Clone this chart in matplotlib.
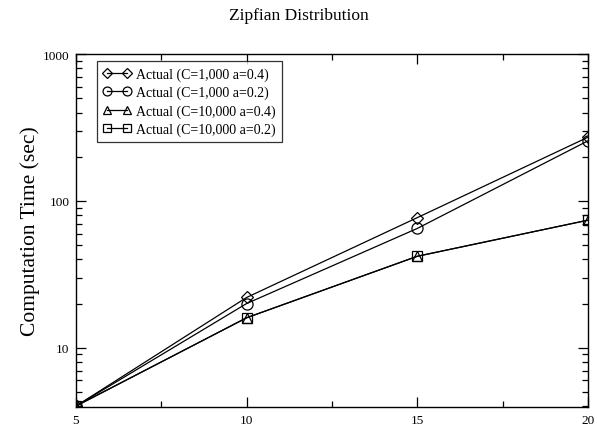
import matplotlib.pyplot as plt
from matplotlib.ticker import LogLocator, NullFormatter, FixedLocator
import numpy as np

plt.rcParams['font.family'] = ['Liberation Serif', 'DejaVu Serif']

x = [5, 10, 15, 20]
c1000_a04 = [4, 22, 77, 272]
c1000_a02 = [4, 20, 65, 257]
c10000_a04 = [4, 16, 42, 74]
c10000_a02 = [4, 16, 42, 74]

labels = ['Actual (C=1,000 a=0.4)', 'Actual (C=1,000 a=0.2)',
          'Actual (C=10,000 a=0.4)', 'Actual (C=10,000 a=0.2)']
markers = ['D', 'o', '^', 's']
sizes = [6, 8, 7, 7]

fig = plt.figure(figsize=(5.97, 4.31), dpi=100)
ax = fig.add_axes([0.127, 0.0534, 0.858, 0.8186])

for y, lab, m, ms in zip([c1000_a04, c1000_a02, c10000_a04, c10000_a02], labels, markers, sizes):
    ax.plot(x, y, color='black', lw=0.9, marker=m, markersize=ms,
            markerfacecolor='none', markeredgecolor='black', markeredgewidth=0.9, label=lab)

ax.set_yscale('log')
ax.set_xlim(5, 20)
ax.set_ylim(3.95, 1000)
ax.xaxis.set_major_locator(FixedLocator([5, 10, 15, 20]))
ax.xaxis.set_minor_locator(FixedLocator([7.5, 12.5, 17.5]))
ax.yaxis.set_major_locator(FixedLocator([10, 100, 1000]))
ax.yaxis.set_major_formatter(plt.FuncFormatter(lambda v, p: '%d' % v))
ax.yaxis.set_minor_locator(LogLocator(base=10, subs=np.arange(2, 10)))
ax.yaxis.set_minor_formatter(NullFormatter())

ax.tick_params(which='both', direction='in', top=True, right=True, labelsize=9.5, width=0.9)
ax.tick_params(which='major', length=7)
ax.tick_params(which='minor', length=4)
ax.tick_params(axis='x', pad=5)
ax.tick_params(axis='y', pad=4.5)
for s in ax.spines.values():
    s.set_linewidth(1.0)

ax.set_ylabel('Computation Time (sec)', fontsize=15.5, labelpad=2)
fig.suptitle('Zipfian Distribution', fontsize=12.5, y=0.982)

leg = ax.legend(loc='upper left', bbox_to_anchor=(0.041, 0.98), fontsize=10, frameon=True,
                fancybox=False, edgecolor='black', numpoints=2, markerscale=0.8,
                handlelength=2.0, handletextpad=0.4,
                borderpad=0.45, labelspacing=0.35, borderaxespad=0)
leg.get_frame().set_linewidth(0.9)

fig.savefig('out.png', dpi=100)
